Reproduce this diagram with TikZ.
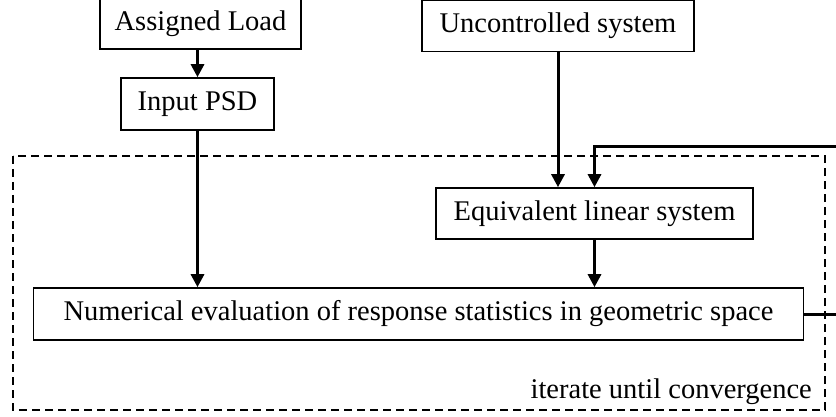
\documentclass[tikz,border=0pt]{standalone}
\usepackage{fontspec}
\setmainfont{Liberation Serif}
\usetikzlibrary{arrows.meta}
\begin{document}
\begin{tikzpicture}[x=1pt,y=-1pt,
  blockbox/.style={draw,line width=1.6pt,inner sep=0pt,font=\fontsize{28.5}{34}\selectfont},
  arr/.style={line width=3pt,-{Triangle[width=13pt,length=13pt]}},
  loopbox/.style={draw,line width=2pt,dash pattern=on 8pt off 5pt}]
\useasboundingbox (0,0) rectangle (836,417);
\node[blockbox,minimum width=201pt,minimum height=50pt] (load) at (200.5,24) {Assigned Load};
\node[blockbox,minimum width=153pt,minimum height=52pt] (psd) at (197.5,104) {Input PSD};
\node[blockbox,minimum width=272pt,minimum height=51pt] (unc) at (558,26) {Uncontrolled system};
\node[blockbox,minimum width=317pt,minimum height=51pt] (eq) at (594.5,213.5) {Equivalent linear system};
\node[blockbox,minimum width=770pt,minimum height=52pt] (num) at (418.5,314) {Numerical evaluation of response statistics in geometric space};
\draw[loopbox] (13,156) rectangle (825,410);
\node[font=\fontsize{28.5}{34}\selectfont,anchor=base east,inner sep=0pt] (lbl) at (812,398) {iterate until convergence};
\coordinate (fb) at (842,147);
\draw[arr] (load.south -| psd.north) -- (psd.north);
\draw[arr] (psd.south) -- (psd.south |- num.north);
\draw[arr] (unc.south) -- (unc.south |- eq.north);
\draw[arr] (eq.south) -- (num.north -| eq.south);
\draw[arr] (num.east) -| (fb) -| (eq.north);
\end{tikzpicture}
\end{document}
